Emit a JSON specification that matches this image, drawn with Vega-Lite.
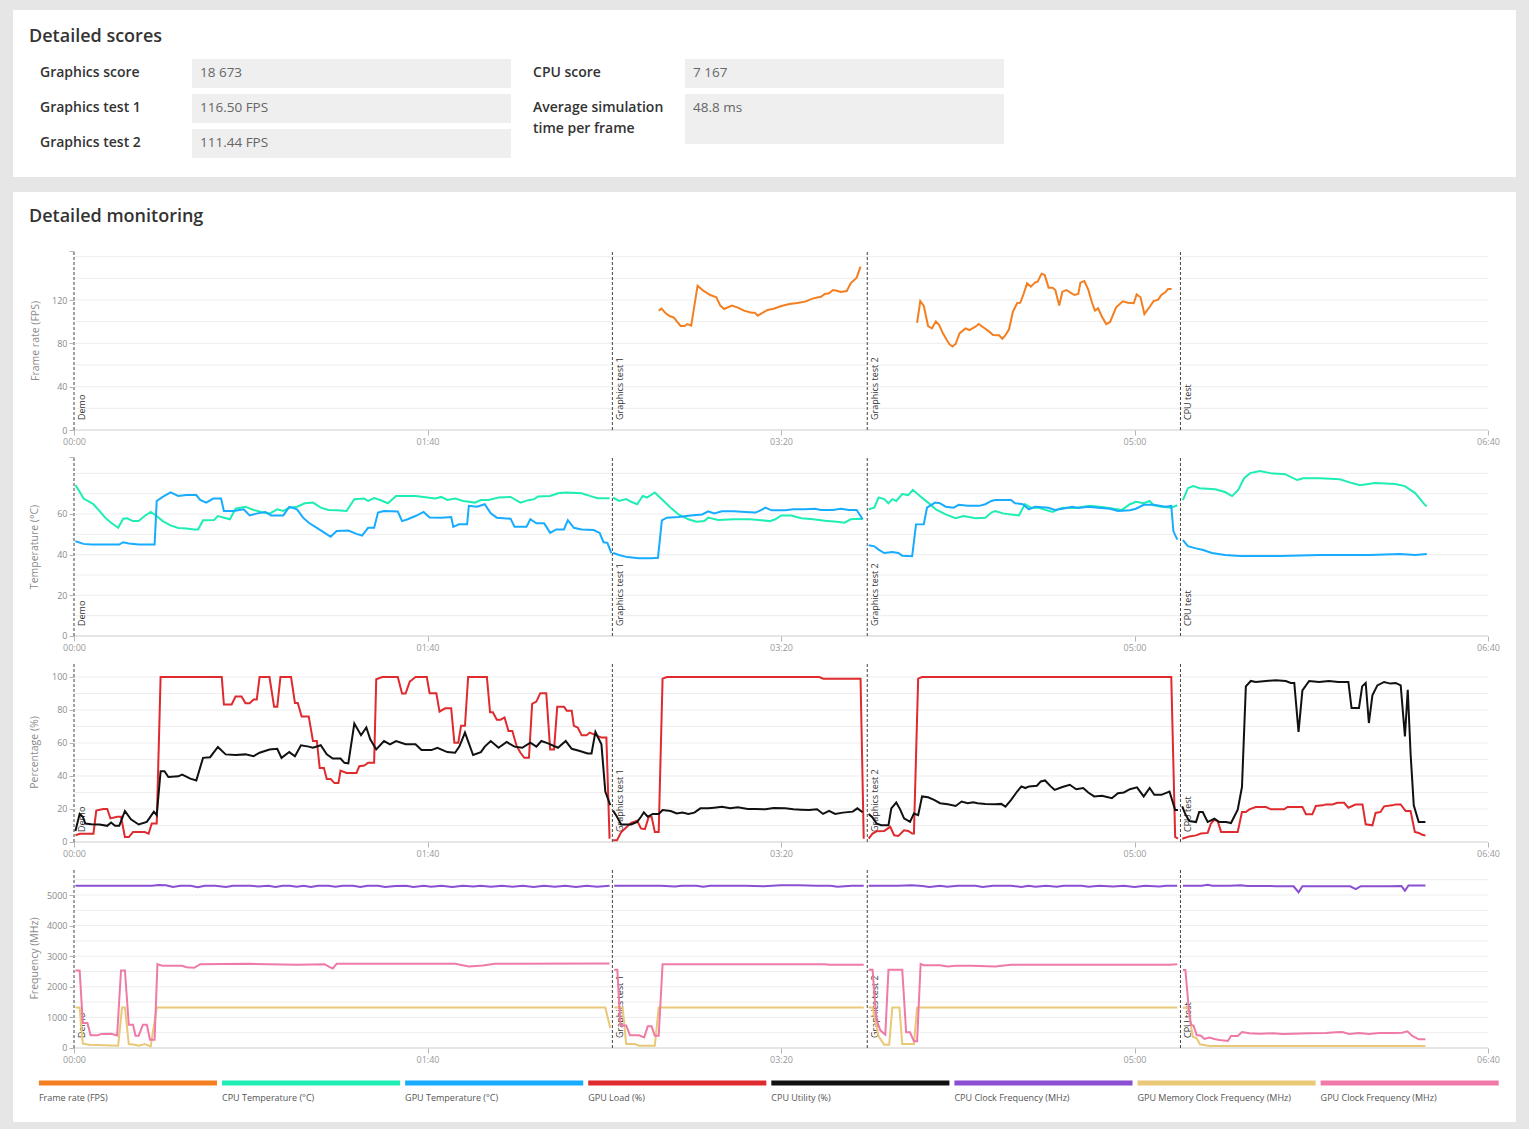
{
"$schema":"https://vega.github.io/schema/vega-lite/v6.json",
"background":"#e6e6e6",
"padding":{"left":13,"top":10,"right":13,"bottom":7},
"spacing":15,
"config":{"view":{"fill":"#ffffff","stroke":null},"font":"Open Sans","concat":{"spacing":0}},
"datasets":{
"scores":[
{"col":0,"row":1,"lines":1,"label":"Graphics score","value":"18 673"},
{"col":0,"row":2,"lines":1,"label":"Graphics test 1","value":"116.50 FPS"},
{"col":0,"row":3,"lines":1,"label":"Graphics test 2","value":"111.44 FPS"},
{"col":1,"row":1,"lines":1,"label":"CPU score","value":"7 167"},
{"col":1,"row":2,"lines":2,"label":"Average simulation\ntime per frame","value":"48.8 ms"}],
"markers":[{"t":0,"label":"Demo"},{"t":152.3,"label":"Graphics test 1"},{"t":224.4,"label":"Graphics test 2"},{"t":313,"label":"CPU test"}],
"legend":[{"s":"fps","label":"Frame rate (FPS)"},{"s":"cput","label":"CPU Temperature (°C)"},{"s":"gput","label":"GPU Temperature (°C)"},{"s":"gload","label":"GPU Load (%)"},{"s":"cpuu","label":"CPU Utility (%)"},{"s":"cclk","label":"CPU Clock Frequency (MHz)"},{"s":"gmem","label":"GPU Memory Clock Frequency (MHz)"},{"s":"gclk","label":"GPU Clock Frequency (MHz)"}],
"c1":[
{"s":"fps","g":2,"t":165.4,"v":110.2},{"s":"fps","g":2,"t":166.2,"v":112},{"s":"fps","g":2,"t":167.4,"v":107.7},{"s":"fps","g":2,"t":168.5,"v":105.2},{"s":"fps","g":2,"t":169.7,"v":103.7},{"s":"fps","g":2,"t":170.6,"v":100},{"s":"fps","g":2,"t":171.6,"v":96},{"s":"fps","g":2,"t":172.7,"v":96},{"s":"fps","g":2,"t":173.5,"v":97.8},{"s":"fps","g":2,"t":174.6,"v":96.3},{"s":"fps","g":2,"t":176.4,"v":133.2},{"s":"fps","g":2,"t":178,"v":128.6},{"s":"fps","g":2,"t":180,"v":124.6},{"s":"fps","g":2,"t":181.7,"v":122.5},{"s":"fps","g":2,"t":182.8,"v":115},{"s":"fps","g":2,"t":183.9,"v":111.7},{"s":"fps","g":2,"t":186.1,"v":114.8},{"s":"fps","g":2,"t":187.8,"v":113},{"s":"fps","g":2,"t":189.5,"v":110.2},{"s":"fps","g":2,"t":191.7,"v":108.3},{"s":"fps","g":2,"t":192.6,"v":108.3},{"s":"fps","g":2,"t":193.4,"v":105.5},{"s":"fps","g":2,"t":194.5,"v":107.7},{"s":"fps","g":2,"t":196.2,"v":110.8},{"s":"fps","g":2,"t":197.9,"v":112},{"s":"fps","g":2,"t":200.1,"v":114.5},{"s":"fps","g":2,"t":202.4,"v":116.3},{"s":"fps","g":2,"t":204.6,"v":117.2},{"s":"fps","g":2,"t":206.8,"v":118.5},{"s":"fps","g":2,"t":209.1,"v":121.5},{"s":"fps","g":2,"t":211.3,"v":123},{"s":"fps","g":2,"t":212.4,"v":125.5},{"s":"fps","g":2,"t":213.6,"v":126.2},{"s":"fps","g":2,"t":214.7,"v":129.2},{"s":"fps","g":2,"t":215.8,"v":128.6},{"s":"fps","g":2,"t":216.9,"v":127.4},{"s":"fps","g":2,"t":218.6,"v":128.3},{"s":"fps","g":2,"t":219.7,"v":135.4},{"s":"fps","g":2,"t":221.4,"v":140.6},{"s":"fps","g":2,"t":222.5,"v":150.8},
{"s":"fps","g":3,"t":238.5,"v":99},{"s":"fps","g":3,"t":239.4,"v":119},{"s":"fps","g":3,"t":240.4,"v":114.5},{"s":"fps","g":3,"t":241.6,"v":96},{"s":"fps","g":3,"t":242.7,"v":93.8},{"s":"fps","g":3,"t":243.8,"v":100.3},{"s":"fps","g":3,"t":244.7,"v":97},{"s":"fps","g":3,"t":245.8,"v":89.2},{"s":"fps","g":3,"t":246.9,"v":83},{"s":"fps","g":3,"t":247.7,"v":79},{"s":"fps","g":3,"t":248.5,"v":77},{"s":"fps","g":3,"t":249.4,"v":79.4},{"s":"fps","g":3,"t":250.5,"v":89.2},{"s":"fps","g":3,"t":252.2,"v":93.8},{"s":"fps","g":3,"t":253.3,"v":92.3},{"s":"fps","g":3,"t":255,"v":95.4},{"s":"fps","g":3,"t":255.9,"v":97.8},{"s":"fps","g":3,"t":257.2,"v":94.8},{"s":"fps","g":3,"t":258.9,"v":90.8},{"s":"fps","g":3,"t":260,"v":87.7},{"s":"fps","g":3,"t":261.7,"v":87.4},{"s":"fps","g":3,"t":262.6,"v":84.3},{"s":"fps","g":3,"t":263.4,"v":87},{"s":"fps","g":3,"t":264.5,"v":93},{"s":"fps","g":3,"t":265.6,"v":109.2},{"s":"fps","g":3,"t":266.8,"v":117},{"s":"fps","g":3,"t":267.7,"v":117.5},{"s":"fps","g":3,"t":268.7,"v":126.2},{"s":"fps","g":3,"t":269.6,"v":135.4},{"s":"fps","g":3,"t":270.7,"v":132.3},{"s":"fps","g":3,"t":271.8,"v":136},{"s":"fps","g":3,"t":272.6,"v":137},{"s":"fps","g":3,"t":273.7,"v":144.3},{"s":"fps","g":3,"t":274.6,"v":143},{"s":"fps","g":3,"t":275.7,"v":131.4},{"s":"fps","g":3,"t":276.8,"v":131.4},{"s":"fps","g":3,"t":277.6,"v":129.2},{"s":"fps","g":3,"t":278.7,"v":115},{"s":"fps","g":3,"t":279.6,"v":127.7},{"s":"fps","g":3,"t":280.8,"v":129.2},{"s":"fps","g":3,"t":281.9,"v":126.8},{"s":"fps","g":3,"t":283,"v":124.6},{"s":"fps","g":3,"t":284.1,"v":125.5},{"s":"fps","g":3,"t":284.7,"v":136},{"s":"fps","g":3,"t":285.8,"v":137.5},{"s":"fps","g":3,"t":286.9,"v":129.8},{"s":"fps","g":3,"t":288,"v":117.5},{"s":"fps","g":3,"t":288.8,"v":110.2},{"s":"fps","g":3,"t":289.7,"v":112.3},{"s":"fps","g":3,"t":290.8,"v":104.6},{"s":"fps","g":3,"t":292,"v":97.8},{"s":"fps","g":3,"t":293.1,"v":99.7},{"s":"fps","g":3,"t":294.8,"v":113.2},{"s":"fps","g":3,"t":296.7,"v":118.8},{"s":"fps","g":3,"t":298.1,"v":117.5},{"s":"fps","g":3,"t":299.8,"v":117},{"s":"fps","g":3,"t":300.6,"v":125.2},{"s":"fps","g":3,"t":301.7,"v":122.5},{"s":"fps","g":3,"t":302.8,"v":107},{"s":"fps","g":3,"t":304.3,"v":113.8},{"s":"fps","g":3,"t":305.4,"v":119},{"s":"fps","g":3,"t":306.7,"v":120.3},{"s":"fps","g":3,"t":307.6,"v":124.6},{"s":"fps","g":3,"t":308.8,"v":127.4},{"s":"fps","g":3,"t":309.5,"v":130.2},{"s":"fps","g":3,"t":310.5,"v":130.2}],
"c2":[
{"s":"cput","g":1,"t":0.4,"v":74.2},{"s":"cput","g":1,"t":1.6,"v":70.9},{"s":"cput","g":1,"t":2.7,"v":67.6},{"s":"cput","g":1,"t":4.4,"v":66},{"s":"cput","g":1,"t":5.5,"v":64.8},{"s":"cput","g":1,"t":7.2,"v":61.5},{"s":"cput","g":1,"t":8.8,"v":58.2},{"s":"cput","g":1,"t":10.5,"v":55.7},{"s":"cput","g":1,"t":12.5,"v":53.2},{"s":"cput","g":1,"t":13.9,"v":57.7},{"s":"cput","g":1,"t":15,"v":57.9},{"s":"cput","g":1,"t":16.7,"v":56.5},{"s":"cput","g":1,"t":18.3,"v":56.5},{"s":"cput","g":1,"t":20,"v":59},{"s":"cput","g":1,"t":21.7,"v":61},{"s":"cput","g":1,"t":23.4,"v":59},{"s":"cput","g":1,"t":25.1,"v":56.5},{"s":"cput","g":1,"t":27.3,"v":54.4},{"s":"cput","g":1,"t":29.5,"v":53.1},{"s":"cput","g":1,"t":31.8,"v":52.9},{"s":"cput","g":1,"t":34,"v":52.4},{"s":"cput","g":1,"t":35.1,"v":52.4},{"s":"cput","g":1,"t":36.5,"v":56.9},{"s":"cput","g":1,"t":39.6,"v":57},{"s":"cput","g":1,"t":40.7,"v":59},{"s":"cput","g":1,"t":44.1,"v":57.4},{"s":"cput","g":1,"t":45.7,"v":62.6},{"s":"cput","g":1,"t":48.5,"v":63.6},{"s":"cput","g":1,"t":50.8,"v":62},{"s":"cput","g":1,"t":53,"v":61},{"s":"cput","g":1,"t":55.3,"v":60.2},{"s":"cput","g":1,"t":57.5,"v":62.3},{"s":"cput","g":1,"t":59.2,"v":61.5},{"s":"cput","g":1,"t":60.9,"v":63.1},{"s":"cput","g":1,"t":63.1,"v":63.6},{"s":"cput","g":1,"t":65.3,"v":65.3},{"s":"cput","g":1,"t":67.6,"v":65.6},{"s":"cput","g":1,"t":69.8,"v":63.1},{"s":"cput","g":1,"t":72,"v":62},{"s":"cput","g":1,"t":74.3,"v":61.8},{"s":"cput","g":1,"t":77.1,"v":61.5},{"s":"cput","g":1,"t":79.3,"v":67.3},{"s":"cput","g":1,"t":82.1,"v":67.6},{"s":"cput","g":1,"t":83.2,"v":66.4},{"s":"cput","g":1,"t":84.9,"v":67.8},{"s":"cput","g":1,"t":86.6,"v":66.9},{"s":"cput","g":1,"t":88.8,"v":65.3},{"s":"cput","g":1,"t":91.1,"v":68.9},{"s":"cput","g":1,"t":93.3,"v":68.9},{"s":"cput","g":1,"t":96.6,"v":68.9},{"s":"cput","g":1,"t":98.9,"v":68.4},{"s":"cput","g":1,"t":102.2,"v":67.6},{"s":"cput","g":1,"t":103.9,"v":68.4},{"s":"cput","g":1,"t":105.6,"v":66.9},{"s":"cput","g":1,"t":107.8,"v":67.6},{"s":"cput","g":1,"t":110.1,"v":66.4},{"s":"cput","g":1,"t":113.4,"v":65.6},{"s":"cput","g":1,"t":115.1,"v":66.9},{"s":"cput","g":1,"t":117.3,"v":66.9},{"s":"cput","g":1,"t":120.1,"v":68.1},{"s":"cput","g":1,"t":123.5,"v":68.4},{"s":"cput","g":1,"t":126.3,"v":65.6},{"s":"cput","g":1,"t":128.5,"v":66.8},{"s":"cput","g":1,"t":130.2,"v":67.3},{"s":"cput","g":1,"t":131.3,"v":68.6},{"s":"cput","g":1,"t":134.7,"v":68.9},{"s":"cput","g":1,"t":136.9,"v":70.2},{"s":"cput","g":1,"t":139.1,"v":70.6},{"s":"cput","g":1,"t":143.6,"v":70.2},{"s":"cput","g":1,"t":145.9,"v":68.9},{"s":"cput","g":1,"t":148.1,"v":67.8},{"s":"cput","g":1,"t":151.5,"v":67.8},
{"s":"gput","g":1,"t":0.4,"v":46.6},{"s":"gput","g":1,"t":2.7,"v":45.3},{"s":"gput","g":1,"t":4.9,"v":45},{"s":"gput","g":1,"t":12.8,"v":45},{"s":"gput","g":1,"t":13.9,"v":46.1},{"s":"gput","g":1,"t":15.5,"v":45.5},{"s":"gput","g":1,"t":18.3,"v":45},{"s":"gput","g":1,"t":22.8,"v":45},{"s":"gput","g":1,"t":23.4,"v":66.4},{"s":"gput","g":1,"t":25.1,"v":68.4},{"s":"gput","g":1,"t":27.3,"v":70.6},{"s":"gput","g":1,"t":29.5,"v":68.9},{"s":"gput","g":1,"t":31.8,"v":69.3},{"s":"gput","g":1,"t":34.6,"v":69.3},{"s":"gput","g":1,"t":35.7,"v":66.9},{"s":"gput","g":1,"t":37.4,"v":65.6},{"s":"gput","g":1,"t":39.4,"v":67.6},{"s":"gput","g":1,"t":41.6,"v":67.6},{"s":"gput","g":1,"t":42.4,"v":61.5},{"s":"gput","g":1,"t":45.2,"v":61.5},{"s":"gput","g":1,"t":48,"v":62.3},{"s":"gput","g":1,"t":49.7,"v":59.3},{"s":"gput","g":1,"t":51.9,"v":60.3},{"s":"gput","g":1,"t":54.1,"v":61},{"s":"gput","g":1,"t":55.8,"v":59.3},{"s":"gput","g":1,"t":59.2,"v":59.3},{"s":"gput","g":1,"t":60.9,"v":63.5},{"s":"gput","g":1,"t":63.1,"v":62.3},{"s":"gput","g":1,"t":64.8,"v":58.2},{"s":"gput","g":1,"t":66.4,"v":55.7},{"s":"gput","g":1,"t":68.7,"v":53.2},{"s":"gput","g":1,"t":70.9,"v":50.7},{"s":"gput","g":1,"t":72.6,"v":48.8},{"s":"gput","g":1,"t":74.3,"v":51.6},{"s":"gput","g":1,"t":77.6,"v":51.9},{"s":"gput","g":1,"t":79.9,"v":50.2},{"s":"gput","g":1,"t":81.5,"v":49.4},{"s":"gput","g":1,"t":83.2,"v":53.2},{"s":"gput","g":1,"t":84.9,"v":53.2},{"s":"gput","g":1,"t":86,"v":60.7},{"s":"gput","g":1,"t":87.7,"v":61.5},{"s":"gput","g":1,"t":91.6,"v":61.2},{"s":"gput","g":1,"t":92.8,"v":56.5},{"s":"gput","g":1,"t":94.4,"v":57.4},{"s":"gput","g":1,"t":96.6,"v":59},{"s":"gput","g":1,"t":98.9,"v":61},{"s":"gput","g":1,"t":100.6,"v":58.3},{"s":"gput","g":1,"t":103.9,"v":58.2},{"s":"gput","g":1,"t":106.7,"v":58.5},{"s":"gput","g":1,"t":107.3,"v":53.7},{"s":"gput","g":1,"t":108.9,"v":54.9},{"s":"gput","g":1,"t":111.2,"v":54.9},{"s":"gput","g":1,"t":111.7,"v":64},{"s":"gput","g":1,"t":114,"v":63.6},{"s":"gput","g":1,"t":116.2,"v":64.8},{"s":"gput","g":1,"t":117.9,"v":60.3},{"s":"gput","g":1,"t":119.6,"v":58.2},{"s":"gput","g":1,"t":123.5,"v":57.7},{"s":"gput","g":1,"t":124.6,"v":53.7},{"s":"gput","g":1,"t":128,"v":53.7},{"s":"gput","g":1,"t":129.1,"v":57.4},{"s":"gput","g":1,"t":130.8,"v":55.4},{"s":"gput","g":1,"t":133,"v":55.4},{"s":"gput","g":1,"t":134.7,"v":50.7},{"s":"gput","g":1,"t":136.4,"v":52.4},{"s":"gput","g":1,"t":138.6,"v":52.4},{"s":"gput","g":1,"t":139.7,"v":57},{"s":"gput","g":1,"t":141.4,"v":53.2},{"s":"gput","g":1,"t":143.6,"v":52.4},{"s":"gput","g":1,"t":147,"v":52.1},{"s":"gput","g":1,"t":148.7,"v":50.7},{"s":"gput","g":1,"t":149.8,"v":46.1},{"s":"gput","g":1,"t":150.9,"v":45.8},{"s":"gput","g":1,"t":152,"v":40.8},
{"s":"cput","g":2,"t":152.5,"v":68.1},{"s":"cput","g":2,"t":154.2,"v":66.4},{"s":"cput","g":2,"t":156.2,"v":67.3},{"s":"cput","g":2,"t":157.6,"v":66},{"s":"cput","g":2,"t":159.3,"v":64.8},{"s":"cput","g":2,"t":160.9,"v":68.9},{"s":"cput","g":2,"t":162.1,"v":68.1},{"s":"cput","g":2,"t":164.3,"v":70.6},{"s":"cput","g":2,"t":166.5,"v":66.9},{"s":"cput","g":2,"t":168.8,"v":63.1},{"s":"cput","g":2,"t":171,"v":59.8},{"s":"cput","g":2,"t":173.8,"v":57.4},{"s":"cput","g":2,"t":176.1,"v":56.2},{"s":"cput","g":2,"t":178.3,"v":56.5},{"s":"cput","g":2,"t":179.4,"v":58.2},{"s":"cput","g":2,"t":182.2,"v":57},{"s":"cput","g":2,"t":186.7,"v":57.4},{"s":"cput","g":2,"t":191.2,"v":57.4},{"s":"cput","g":2,"t":194.5,"v":56.9},{"s":"cput","g":2,"t":196.8,"v":56.5},{"s":"cput","g":2,"t":198.4,"v":57.4},{"s":"cput","g":2,"t":200.1,"v":59.3},{"s":"cput","g":2,"t":202.9,"v":59.3},{"s":"cput","g":2,"t":205.7,"v":57.9},{"s":"cput","g":2,"t":209.1,"v":57.4},{"s":"cput","g":2,"t":212.4,"v":56.7},{"s":"cput","g":2,"t":215.8,"v":56.2},{"s":"cput","g":2,"t":218,"v":55.7},{"s":"cput","g":2,"t":219.7,"v":57.4},{"s":"cput","g":2,"t":222,"v":57.7},{"s":"cput","g":2,"t":223.1,"v":57.4},
{"s":"gput","g":2,"t":152.5,"v":40.8},{"s":"gput","g":2,"t":154.2,"v":39.8},{"s":"gput","g":2,"t":156.5,"v":38.8},{"s":"gput","g":2,"t":159.8,"v":38.2},{"s":"gput","g":2,"t":163.2,"v":38.2},{"s":"gput","g":2,"t":165.2,"v":38.5},{"s":"gput","g":2,"t":166.3,"v":56.9},{"s":"gput","g":2,"t":167.7,"v":58.2},{"s":"gput","g":2,"t":171,"v":58.5},{"s":"gput","g":2,"t":174.4,"v":59.3},{"s":"gput","g":2,"t":177.7,"v":59.8},{"s":"gput","g":2,"t":179.4,"v":61.3},{"s":"gput","g":2,"t":181.1,"v":60.3},{"s":"gput","g":2,"t":183.3,"v":61.3},{"s":"gput","g":2,"t":186.7,"v":61.3},{"s":"gput","g":2,"t":190,"v":61},{"s":"gput","g":2,"t":192.8,"v":60.7},{"s":"gput","g":2,"t":194.5,"v":62},{"s":"gput","g":2,"t":195.6,"v":63.1},{"s":"gput","g":2,"t":197.3,"v":61.8},{"s":"gput","g":2,"t":201.2,"v":61.8},{"s":"gput","g":2,"t":203.5,"v":62.3},{"s":"gput","g":2,"t":206.8,"v":62.3},{"s":"gput","g":2,"t":209.6,"v":62.6},{"s":"gput","g":2,"t":211.3,"v":62},{"s":"gput","g":2,"t":214.7,"v":62},{"s":"gput","g":2,"t":216.9,"v":62.6},{"s":"gput","g":2,"t":219.2,"v":62},{"s":"gput","g":2,"t":221.4,"v":62},{"s":"gput","g":2,"t":223.1,"v":57.4},
{"s":"cput","g":3,"t":224.8,"v":62.3},{"s":"cput","g":3,"t":226.4,"v":63.1},{"s":"cput","g":3,"t":227.6,"v":68.1},{"s":"cput","g":3,"t":229.2,"v":67.3},{"s":"cput","g":3,"t":230.4,"v":65.3},{"s":"cput","g":3,"t":231.5,"v":67.3},{"s":"cput","g":3,"t":232.6,"v":66.4},{"s":"cput","g":3,"t":234.3,"v":69.8},{"s":"cput","g":3,"t":236,"v":69.3},{"s":"cput","g":3,"t":237.3,"v":71.9},{"s":"cput","g":3,"t":239.3,"v":68.9},{"s":"cput","g":3,"t":241.6,"v":65.6},{"s":"cput","g":3,"t":243.8,"v":62.3},{"s":"cput","g":3,"t":246.6,"v":59.8},{"s":"cput","g":3,"t":249.4,"v":57.9},{"s":"cput","g":3,"t":251.6,"v":59},{"s":"cput","g":3,"t":255,"v":57.9},{"s":"cput","g":3,"t":257.8,"v":58.2},{"s":"cput","g":3,"t":259.5,"v":60.7},{"s":"cput","g":3,"t":260.6,"v":61.5},{"s":"cput","g":3,"t":262.8,"v":60.3},{"s":"cput","g":3,"t":265.1,"v":59.7},{"s":"cput","g":3,"t":267.3,"v":59.3},{"s":"cput","g":3,"t":269,"v":64.8},{"s":"cput","g":3,"t":270.7,"v":63.1},{"s":"cput","g":3,"t":272.9,"v":63.1},{"s":"cput","g":3,"t":275.2,"v":61.8},{"s":"cput","g":3,"t":276.8,"v":61},{"s":"cput","g":3,"t":279.6,"v":63.1},{"s":"cput","g":3,"t":283,"v":63},{"s":"cput","g":3,"t":287.5,"v":64},{"s":"cput","g":3,"t":290.8,"v":63.5},{"s":"cput","g":3,"t":294.2,"v":62.6},{"s":"cput","g":3,"t":296.4,"v":62},{"s":"cput","g":3,"t":298.7,"v":64.8},{"s":"cput","g":3,"t":300.4,"v":66},{"s":"cput","g":3,"t":302.6,"v":65.3},{"s":"cput","g":3,"t":304.3,"v":66.4},{"s":"cput","g":3,"t":305.4,"v":64.3},{"s":"cput","g":3,"t":307.6,"v":63.6},{"s":"cput","g":3,"t":310.4,"v":63.1},{"s":"cput","g":3,"t":312.1,"v":64.3},
{"s":"gput","g":3,"t":224.8,"v":44.6},{"s":"gput","g":3,"t":226.4,"v":44.1},{"s":"gput","g":3,"t":227.6,"v":42.5},{"s":"gput","g":3,"t":229.2,"v":40.8},{"s":"gput","g":3,"t":231.5,"v":41.3},{"s":"gput","g":3,"t":233.2,"v":40.8},{"s":"gput","g":3,"t":234.3,"v":39.5},{"s":"gput","g":3,"t":237.1,"v":39.2},{"s":"gput","g":3,"t":238.2,"v":54.9},{"s":"gput","g":3,"t":240.4,"v":55},{"s":"gput","g":3,"t":241.3,"v":63.1},{"s":"gput","g":3,"t":243.6,"v":65.6},{"s":"gput","g":3,"t":244.9,"v":65.3},{"s":"gput","g":3,"t":246.6,"v":63.6},{"s":"gput","g":3,"t":248.8,"v":63.1},{"s":"gput","g":3,"t":250.3,"v":64.5},{"s":"gput","g":3,"t":252.8,"v":64},{"s":"gput","g":3,"t":256.1,"v":64},{"s":"gput","g":3,"t":257.8,"v":64.8},{"s":"gput","g":3,"t":259.5,"v":66.4},{"s":"gput","g":3,"t":260.6,"v":66.9},{"s":"gput","g":3,"t":265.1,"v":66.9},{"s":"gput","g":3,"t":266.2,"v":65.3},{"s":"gput","g":3,"t":268.4,"v":64.8},{"s":"gput","g":3,"t":270.1,"v":62.3},{"s":"gput","g":3,"t":271.9,"v":63.6},{"s":"gput","g":3,"t":275.7,"v":63.1},{"s":"gput","g":3,"t":277.4,"v":62},{"s":"gput","g":3,"t":279.6,"v":62.6},{"s":"gput","g":3,"t":282.4,"v":63.5},{"s":"gput","g":3,"t":284.1,"v":63},{"s":"gput","g":3,"t":286.9,"v":63.6},{"s":"gput","g":3,"t":289.7,"v":63.1},{"s":"gput","g":3,"t":293.1,"v":62.6},{"s":"gput","g":3,"t":295.3,"v":61.5},{"s":"gput","g":3,"t":298.7,"v":61.8},{"s":"gput","g":3,"t":300.4,"v":62.6},{"s":"gput","g":3,"t":302.6,"v":64.5},{"s":"gput","g":3,"t":305.4,"v":64.5},{"s":"gput","g":3,"t":308.8,"v":63.6},{"s":"gput","g":3,"t":310.4,"v":64},{"s":"gput","g":3,"t":311,"v":51.6},{"s":"gput","g":3,"t":312.1,"v":47.4},
{"s":"cput","g":4,"t":313.7,"v":66.8},{"s":"cput","g":4,"t":315.1,"v":72.7},{"s":"cput","g":4,"t":316.6,"v":73.7},{"s":"cput","g":4,"t":318.5,"v":72.7},{"s":"cput","g":4,"t":322.8,"v":72.2},{"s":"cput","g":4,"t":325.6,"v":70.8},{"s":"cput","g":4,"t":327.6,"v":68.8},{"s":"cput","g":4,"t":329.3,"v":71.7},{"s":"cput","g":4,"t":331,"v":77.6},{"s":"cput","g":4,"t":332.7,"v":80.1},{"s":"cput","g":4,"t":335.5,"v":81.1},{"s":"cput","g":4,"t":338.3,"v":80.1},{"s":"cput","g":4,"t":342.6,"v":79.6},{"s":"cput","g":4,"t":346,"v":76.7},{"s":"cput","g":4,"t":347.7,"v":77.6},{"s":"cput","g":4,"t":352.5,"v":77.6},{"s":"cput","g":4,"t":358.1,"v":77.1},{"s":"cput","g":4,"t":361.5,"v":75.2},{"s":"cput","g":4,"t":363.8,"v":74.2},{"s":"cput","g":4,"t":368,"v":75.2},{"s":"cput","g":4,"t":373.7,"v":74.7},{"s":"cput","g":4,"t":376.5,"v":73.7},{"s":"cput","g":4,"t":379.4,"v":70.3},{"s":"cput","g":4,"t":382.2,"v":64.4},{"s":"cput","g":4,"t":382.7,"v":63.9},
{"s":"gput","g":4,"t":313.7,"v":47.2},{"s":"gput","g":4,"t":315.1,"v":44.2},{"s":"gput","g":4,"t":317.1,"v":43.2},{"s":"gput","g":4,"t":319.4,"v":42.3},{"s":"gput","g":4,"t":321.9,"v":40.8},{"s":"gput","g":4,"t":325.6,"v":39.8},{"s":"gput","g":4,"t":329.8,"v":39.3},{"s":"gput","g":4,"t":341.2,"v":39.3},{"s":"gput","g":4,"t":352.5,"v":39.8},{"s":"gput","g":4,"t":366.6,"v":39.8},{"s":"gput","g":4,"t":375.1,"v":40.3},{"s":"gput","g":4,"t":379.4,"v":39.8},{"s":"gput","g":4,"t":382.7,"v":40.3}],
"c3":[
{"s":"gload","g":1,"t":0.4,"v":4},{"s":"gload","g":1,"t":1.6,"v":5},{"s":"gload","g":1,"t":5.5,"v":5},{"s":"gload","g":1,"t":6.3,"v":19},{"s":"gload","g":1,"t":8.3,"v":20},{"s":"gload","g":1,"t":9.4,"v":20},{"s":"gload","g":1,"t":10.3,"v":14.3},{"s":"gload","g":1,"t":12.2,"v":15.3},{"s":"gload","g":1,"t":13.3,"v":15.3},{"s":"gload","g":1,"t":14.4,"v":3},{"s":"gload","g":1,"t":15.5,"v":3},{"s":"gload","g":1,"t":16.7,"v":6},{"s":"gload","g":1,"t":20,"v":6},{"s":"gload","g":1,"t":21.1,"v":5},{"s":"gload","g":1,"t":22,"v":11.2},{"s":"gload","g":1,"t":23.4,"v":11.2},{"s":"gload","g":1,"t":24.5,"v":100},{"s":"gload","g":1,"t":41.8,"v":100},{"s":"gload","g":1,"t":42.4,"v":83.3},{"s":"gload","g":1,"t":44.6,"v":83.3},{"s":"gload","g":1,"t":45.7,"v":88.2},{"s":"gload","g":1,"t":47.4,"v":88.2},{"s":"gload","g":1,"t":48.5,"v":84.1},{"s":"gload","g":1,"t":49.7,"v":84.1},{"s":"gload","g":1,"t":50.8,"v":86.3},{"s":"gload","g":1,"t":51.7,"v":86.3},{"s":"gload","g":1,"t":52.5,"v":100},{"s":"gload","g":1,"t":55.3,"v":100},{"s":"gload","g":1,"t":56.6,"v":82},{"s":"gload","g":1,"t":57.5,"v":82},{"s":"gload","g":1,"t":58.4,"v":100},{"s":"gload","g":1,"t":61.4,"v":100},{"s":"gload","g":1,"t":62.5,"v":84.3},{"s":"gload","g":1,"t":63.3,"v":84.3},{"s":"gload","g":1,"t":64.4,"v":76.1},{"s":"gload","g":1,"t":66.4,"v":76.1},{"s":"gload","g":1,"t":67.6,"v":61.2},{"s":"gload","g":1,"t":68.7,"v":61.2},{"s":"gload","g":1,"t":69.5,"v":44.9},{"s":"gload","g":1,"t":70.7,"v":44.9},{"s":"gload","g":1,"t":71.5,"v":38.2},{"s":"gload","g":1,"t":72.6,"v":38.2},{"s":"gload","g":1,"t":73.7,"v":35.7},{"s":"gload","g":1,"t":74.8,"v":35.7},{"s":"gload","g":1,"t":75.4,"v":43.3},{"s":"gload","g":1,"t":77.1,"v":41.8},{"s":"gload","g":1,"t":79.9,"v":41.8},{"s":"gload","g":1,"t":80.7,"v":45.9},{"s":"gload","g":1,"t":82.1,"v":46.3},{"s":"gload","g":1,"t":83.2,"v":48},{"s":"gload","g":1,"t":84.9,"v":48},{"s":"gload","g":1,"t":85.5,"v":98.6},{"s":"gload","g":1,"t":87.2,"v":100},{"s":"gload","g":1,"t":91.6,"v":100},{"s":"gload","g":1,"t":92.8,"v":90},{"s":"gload","g":1,"t":93.8,"v":90},{"s":"gload","g":1,"t":95,"v":97.3},{"s":"gload","g":1,"t":95.5,"v":98},{"s":"gload","g":1,"t":96.6,"v":100},{"s":"gload","g":1,"t":99.8,"v":100},{"s":"gload","g":1,"t":100.6,"v":90.2},{"s":"gload","g":1,"t":102.5,"v":90.2},{"s":"gload","g":1,"t":103.4,"v":79},{"s":"gload","g":1,"t":105,"v":81},{"s":"gload","g":1,"t":106.7,"v":81},{"s":"gload","g":1,"t":107.6,"v":60.2},{"s":"gload","g":1,"t":108.7,"v":60.2},{"s":"gload","g":1,"t":109.5,"v":70.4},{"s":"gload","g":1,"t":110.6,"v":70.4},{"s":"gload","g":1,"t":111.5,"v":100},{"s":"gload","g":1,"t":116.8,"v":100},{"s":"gload","g":1,"t":117.7,"v":78.6},{"s":"gload","g":1,"t":118.5,"v":78.6},{"s":"gload","g":1,"t":119.6,"v":74.1},{"s":"gload","g":1,"t":120.7,"v":74.1},{"s":"gload","g":1,"t":121.8,"v":75.5},{"s":"gload","g":1,"t":122.9,"v":67.3},{"s":"gload","g":1,"t":124,"v":67.3},{"s":"gload","g":1,"t":125.2,"v":58.2},{"s":"gload","g":1,"t":126.3,"v":54.1},{"s":"gload","g":1,"t":127.4,"v":51},{"s":"gload","g":1,"t":128.7,"v":51},{"s":"gload","g":1,"t":129.6,"v":83.7},{"s":"gload","g":1,"t":130.8,"v":85.1},{"s":"gload","g":1,"t":131.9,"v":90.2},{"s":"gload","g":1,"t":133.6,"v":90.2},{"s":"gload","g":1,"t":134.7,"v":56.1},{"s":"gload","g":1,"t":135.8,"v":56.1},{"s":"gload","g":1,"t":136.7,"v":82},{"s":"gload","g":1,"t":138.6,"v":82},{"s":"gload","g":1,"t":139.4,"v":79.6},{"s":"gload","g":1,"t":140.8,"v":79.6},{"s":"gload","g":1,"t":141.4,"v":70.4},{"s":"gload","g":1,"t":142.5,"v":69.4},{"s":"gload","g":1,"t":143.6,"v":64.7},{"s":"gload","g":1,"t":145,"v":64.7},{"s":"gload","g":1,"t":145.9,"v":66.3},{"s":"gload","g":1,"t":149.2,"v":63.3},{"s":"gload","g":1,"t":150.6,"v":63.3},{"s":"gload","g":1,"t":151.5,"v":2},
{"s":"gload","g":2,"t":152.5,"v":1},{"s":"gload","g":2,"t":153.6,"v":1},{"s":"gload","g":2,"t":154.8,"v":6},{"s":"gload","g":2,"t":155.9,"v":8.2},{"s":"gload","g":2,"t":157.6,"v":11.6},{"s":"gload","g":2,"t":159.3,"v":12.9},{"s":"gload","g":2,"t":160.4,"v":8.2},{"s":"gload","g":2,"t":161.5,"v":7.8},{"s":"gload","g":2,"t":162.6,"v":15.3},{"s":"gload","g":2,"t":163.4,"v":15.3},{"s":"gload","g":2,"t":164.3,"v":6.1},{"s":"gload","g":2,"t":165.4,"v":6.1},{"s":"gload","g":2,"t":166.5,"v":99},{"s":"gload","g":2,"t":167.7,"v":100},{"s":"gload","g":2,"t":210.8,"v":100},{"s":"gload","g":2,"t":212,"v":99},{"s":"gload","g":2,"t":222.5,"v":99},{"s":"gload","g":2,"t":223.4,"v":2},
{"s":"gload","g":3,"t":224.8,"v":2},{"s":"gload","g":3,"t":225.9,"v":5.1},{"s":"gload","g":3,"t":227,"v":6.5},{"s":"gload","g":3,"t":229.2,"v":6.7},{"s":"gload","g":3,"t":230.9,"v":9.2},{"s":"gload","g":3,"t":232,"v":4.1},{"s":"gload","g":3,"t":233.2,"v":3.7},{"s":"gload","g":3,"t":234.8,"v":7.1},{"s":"gload","g":3,"t":236,"v":6.7},{"s":"gload","g":3,"t":237.1,"v":5.1},{"s":"gload","g":3,"t":237.6,"v":5.1},{"s":"gload","g":3,"t":238.8,"v":99},{"s":"gload","g":3,"t":239.9,"v":100},{"s":"gload","g":3,"t":310.4,"v":100},{"s":"gload","g":3,"t":311.5,"v":3.1},{"s":"gload","g":3,"t":312.3,"v":2},
{"s":"gload","g":4,"t":313.5,"v":2},{"s":"gload","g":4,"t":315.5,"v":3.4},{"s":"gload","g":4,"t":317.4,"v":4},{"s":"gload","g":4,"t":318.8,"v":5.1},{"s":"gload","g":4,"t":320.7,"v":5.5},{"s":"gload","g":4,"t":321.6,"v":11.1},{"s":"gload","g":4,"t":322.6,"v":13.5},{"s":"gload","g":4,"t":323.5,"v":12.7},{"s":"gload","g":4,"t":324.5,"v":6.1},{"s":"gload","g":4,"t":329.2,"v":6.1},{"s":"gload","g":4,"t":330.4,"v":18.2},{"s":"gload","g":4,"t":331.5,"v":18.2},{"s":"gload","g":4,"t":332.5,"v":19.8},{"s":"gload","g":4,"t":334.3,"v":21.2},{"s":"gload","g":4,"t":337.2,"v":21.2},{"s":"gload","g":4,"t":338.6,"v":19.8},{"s":"gload","g":4,"t":342.3,"v":19.8},{"s":"gload","g":4,"t":343.3,"v":21.2},{"s":"gload","g":4,"t":347.5,"v":21.2},{"s":"gload","g":4,"t":348.5,"v":16.8},{"s":"gload","g":4,"t":350.3,"v":16.8},{"s":"gload","g":4,"t":351.3,"v":21.8},{"s":"gload","g":4,"t":353.2,"v":22.2},{"s":"gload","g":4,"t":354.1,"v":22.8},{"s":"gload","g":4,"t":356,"v":22.8},{"s":"gload","g":4,"t":357.4,"v":23.8},{"s":"gload","g":4,"t":359.3,"v":23.8},{"s":"gload","g":4,"t":360.5,"v":20.8},{"s":"gload","g":4,"t":361.6,"v":21.8},{"s":"gload","g":4,"t":362.6,"v":22.8},{"s":"gload","g":4,"t":364.5,"v":22.8},{"s":"gload","g":4,"t":365.4,"v":10.7},{"s":"gload","g":4,"t":367.3,"v":10.1},{"s":"gload","g":4,"t":368.2,"v":17.6},{"s":"gload","g":4,"t":369.6,"v":18.2},{"s":"gload","g":4,"t":370.6,"v":21.6},{"s":"gload","g":4,"t":372.9,"v":22.2},{"s":"gload","g":4,"t":373.9,"v":22.8},{"s":"gload","g":4,"t":375.3,"v":22.8},{"s":"gload","g":4,"t":376.7,"v":18.8},{"s":"gload","g":4,"t":378.1,"v":18.8},{"s":"gload","g":4,"t":379.3,"v":6.1},{"s":"gload","g":4,"t":380.4,"v":5.5},{"s":"gload","g":4,"t":381.4,"v":4.4},{"s":"gload","g":4,"t":382.3,"v":4},
{"s":"cpuu","g":1,"t":0.4,"v":6.7},{"s":"cpuu","g":1,"t":1.6,"v":17},{"s":"cpuu","g":1,"t":2.5,"v":15.3},{"s":"cpuu","g":1,"t":3.2,"v":11.2},{"s":"cpuu","g":1,"t":4.9,"v":10.8},{"s":"cpuu","g":1,"t":7.2,"v":10.6},{"s":"cpuu","g":1,"t":9.4,"v":9.8},{"s":"cpuu","g":1,"t":10.5,"v":11.8},{"s":"cpuu","g":1,"t":11.6,"v":9.8},{"s":"cpuu","g":1,"t":12.8,"v":9.8},{"s":"cpuu","g":1,"t":14.4,"v":18.8},{"s":"cpuu","g":1,"t":16.1,"v":13.7},{"s":"cpuu","g":1,"t":18.3,"v":10.6},{"s":"cpuu","g":1,"t":20.6,"v":12.2},{"s":"cpuu","g":1,"t":22.6,"v":18.4},{"s":"cpuu","g":1,"t":23.4,"v":16.3},{"s":"cpuu","g":1,"t":24.5,"v":42.9},{"s":"cpuu","g":1,"t":25.6,"v":42.9},{"s":"cpuu","g":1,"t":26.7,"v":39.4},{"s":"cpuu","g":1,"t":29.5,"v":39.8},{"s":"cpuu","g":1,"t":30.6,"v":40.8},{"s":"cpuu","g":1,"t":32.9,"v":38.4},{"s":"cpuu","g":1,"t":34.6,"v":37.3},{"s":"cpuu","g":1,"t":36.5,"v":51},{"s":"cpuu","g":1,"t":38.5,"v":51.4},{"s":"cpuu","g":1,"t":40.7,"v":57.6},{"s":"cpuu","g":1,"t":42.9,"v":53.1},{"s":"cpuu","g":1,"t":45.7,"v":52.7},{"s":"cpuu","g":1,"t":48.5,"v":53.1},{"s":"cpuu","g":1,"t":50.8,"v":52},{"s":"cpuu","g":1,"t":52.5,"v":54.1},{"s":"cpuu","g":1,"t":55.3,"v":56.1},{"s":"cpuu","g":1,"t":57.5,"v":56.5},{"s":"cpuu","g":1,"t":58.7,"v":51},{"s":"cpuu","g":1,"t":60.9,"v":54.5},{"s":"cpuu","g":1,"t":62.5,"v":52},{"s":"cpuu","g":1,"t":64.2,"v":58.6},{"s":"cpuu","g":1,"t":66.4,"v":57.8},{"s":"cpuu","g":1,"t":67.6,"v":57.1},{"s":"cpuu","g":1,"t":69.8,"v":58.6},{"s":"cpuu","g":1,"t":71.5,"v":53.1},{"s":"cpuu","g":1,"t":73.2,"v":50.6},{"s":"cpuu","g":1,"t":75.4,"v":50.6},{"s":"cpuu","g":1,"t":76.5,"v":48},{"s":"cpuu","g":1,"t":77.6,"v":47.6},{"s":"cpuu","g":1,"t":79.3,"v":71.8},{"s":"cpuu","g":1,"t":81.2,"v":64.7},{"s":"cpuu","g":1,"t":82.7,"v":69.4},{"s":"cpuu","g":1,"t":83.8,"v":62.2},{"s":"cpuu","g":1,"t":85.5,"v":56.1},{"s":"cpuu","g":1,"t":87.7,"v":61.2},{"s":"cpuu","g":1,"t":89.4,"v":59.2},{"s":"cpuu","g":1,"t":91.1,"v":61.2},{"s":"cpuu","g":1,"t":93.8,"v":59.2},{"s":"cpuu","g":1,"t":96.6,"v":59.2},{"s":"cpuu","g":1,"t":98.3,"v":55.7},{"s":"cpuu","g":1,"t":101.1,"v":55.7},{"s":"cpuu","g":1,"t":102.8,"v":57.1},{"s":"cpuu","g":1,"t":105.6,"v":54.5},{"s":"cpuu","g":1,"t":107.8,"v":54.1},{"s":"cpuu","g":1,"t":109,"v":57.8},{"s":"cpuu","g":1,"t":110.6,"v":66.3},{"s":"cpuu","g":1,"t":112.9,"v":52.7},{"s":"cpuu","g":1,"t":115.1,"v":54.5},{"s":"cpuu","g":1,"t":116.2,"v":57.8},{"s":"cpuu","g":1,"t":117.9,"v":61.2},{"s":"cpuu","g":1,"t":120.1,"v":57.1},{"s":"cpuu","g":1,"t":122.4,"v":60.6},{"s":"cpuu","g":1,"t":124.6,"v":57.8},{"s":"cpuu","g":1,"t":126.8,"v":57.1},{"s":"cpuu","g":1,"t":129.1,"v":60.2},{"s":"cpuu","g":1,"t":130.8,"v":57.8},{"s":"cpuu","g":1,"t":132.2,"v":61.2},{"s":"cpuu","g":1,"t":134.1,"v":59.8},{"s":"cpuu","g":1,"t":136.9,"v":57.1},{"s":"cpuu","g":1,"t":139.1,"v":61.2},{"s":"cpuu","g":1,"t":140.8,"v":56.5},{"s":"cpuu","g":1,"t":143.1,"v":55.1},{"s":"cpuu","g":1,"t":145.3,"v":53.7},{"s":"cpuu","g":1,"t":146.4,"v":53.7},{"s":"cpuu","g":1,"t":147.5,"v":66.7},{"s":"cpuu","g":1,"t":149.2,"v":59.2},{"s":"cpuu","g":1,"t":150.3,"v":30.6},{"s":"cpuu","g":1,"t":151.7,"v":22.4},
{"s":"cpuu","g":2,"t":152.5,"v":19},{"s":"cpuu","g":2,"t":153.6,"v":15.3},{"s":"cpuu","g":2,"t":154.8,"v":10.6},{"s":"cpuu","g":2,"t":157.6,"v":10.6},{"s":"cpuu","g":2,"t":159.3,"v":12.2},{"s":"cpuu","g":2,"t":160.4,"v":15.3},{"s":"cpuu","g":2,"t":161.2,"v":18},{"s":"cpuu","g":2,"t":162.3,"v":15.3},{"s":"cpuu","g":2,"t":163.7,"v":17},{"s":"cpuu","g":2,"t":165.4,"v":17},{"s":"cpuu","g":2,"t":166.5,"v":19.4},{"s":"cpuu","g":2,"t":168.8,"v":18.8},{"s":"cpuu","g":2,"t":170.5,"v":17.3},{"s":"cpuu","g":2,"t":172.1,"v":17.8},{"s":"cpuu","g":2,"t":173.8,"v":17},{"s":"cpuu","g":2,"t":175.5,"v":17.8},{"s":"cpuu","g":2,"t":177.2,"v":20.4},{"s":"cpuu","g":2,"t":179.4,"v":20.4},{"s":"cpuu","g":2,"t":181.1,"v":20.8},{"s":"cpuu","g":2,"t":183.3,"v":21.4},{"s":"cpuu","g":2,"t":185.6,"v":20.4},{"s":"cpuu","g":2,"t":187.8,"v":21},{"s":"cpuu","g":2,"t":190.6,"v":20},{"s":"cpuu","g":2,"t":192.8,"v":20},{"s":"cpuu","g":2,"t":195.6,"v":19.8},{"s":"cpuu","g":2,"t":197.9,"v":20.6},{"s":"cpuu","g":2,"t":201.2,"v":20.4},{"s":"cpuu","g":2,"t":203.5,"v":19.8},{"s":"cpuu","g":2,"t":205.7,"v":19.6},{"s":"cpuu","g":2,"t":207.9,"v":19.4},{"s":"cpuu","g":2,"t":210.2,"v":19.8},{"s":"cpuu","g":2,"t":211.9,"v":17},{"s":"cpuu","g":2,"t":213.6,"v":18.8},{"s":"cpuu","g":2,"t":215.3,"v":17},{"s":"cpuu","g":2,"t":217.5,"v":17.8},{"s":"cpuu","g":2,"t":220.3,"v":18.4},{"s":"cpuu","g":2,"t":221.6,"v":20.4},{"s":"cpuu","g":2,"t":223.1,"v":18},
{"s":"cpuu","g":3,"t":224.8,"v":17},{"s":"cpuu","g":3,"t":225.9,"v":14.9},{"s":"cpuu","g":3,"t":227,"v":11.2},{"s":"cpuu","g":3,"t":228.3,"v":10.2},{"s":"cpuu","g":3,"t":230.4,"v":10.2},{"s":"cpuu","g":3,"t":231.2,"v":20.4},{"s":"cpuu","g":3,"t":232.6,"v":23.9},{"s":"cpuu","g":3,"t":233.7,"v":19.8},{"s":"cpuu","g":3,"t":234.8,"v":14.3},{"s":"cpuu","g":3,"t":236.5,"v":12.2},{"s":"cpuu","g":3,"t":237.6,"v":17.3},{"s":"cpuu","g":3,"t":238.8,"v":16.3},{"s":"cpuu","g":3,"t":239.9,"v":27.6},{"s":"cpuu","g":3,"t":241.6,"v":27.1},{"s":"cpuu","g":3,"t":243.3,"v":25.5},{"s":"cpuu","g":3,"t":245,"v":23.5},{"s":"cpuu","g":3,"t":247.2,"v":22.9},{"s":"cpuu","g":3,"t":249.4,"v":21.8},{"s":"cpuu","g":3,"t":251.1,"v":24.5},{"s":"cpuu","g":3,"t":252.8,"v":23.5},{"s":"cpuu","g":3,"t":254.4,"v":24.1},{"s":"cpuu","g":3,"t":255.6,"v":23.5},{"s":"cpuu","g":3,"t":257.8,"v":23.1},{"s":"cpuu","g":3,"t":260.6,"v":22.9},{"s":"cpuu","g":3,"t":262.3,"v":23.1},{"s":"cpuu","g":3,"t":263.5,"v":21.4},{"s":"cpuu","g":3,"t":265.1,"v":25.5},{"s":"cpuu","g":3,"t":266.8,"v":30.6},{"s":"cpuu","g":3,"t":268,"v":33.7},{"s":"cpuu","g":3,"t":269.1,"v":32.7},{"s":"cpuu","g":3,"t":270.2,"v":33.7},{"s":"cpuu","g":3,"t":272.4,"v":34.1},{"s":"cpuu","g":3,"t":273.5,"v":36.7},{"s":"cpuu","g":3,"t":274.7,"v":37.3},{"s":"cpuu","g":3,"t":276.3,"v":33.7},{"s":"cpuu","g":3,"t":277.4,"v":31.6},{"s":"cpuu","g":3,"t":279.6,"v":33.3},{"s":"cpuu","g":3,"t":281.7,"v":34.7},{"s":"cpuu","g":3,"t":283.5,"v":32},{"s":"cpuu","g":3,"t":285.5,"v":32.7},{"s":"cpuu","g":3,"t":286.9,"v":30},{"s":"cpuu","g":3,"t":288.6,"v":27.6},{"s":"cpuu","g":3,"t":290.8,"v":28},{"s":"cpuu","g":3,"t":293.6,"v":26.5},{"s":"cpuu","g":3,"t":295.3,"v":29.6},{"s":"cpuu","g":3,"t":297,"v":30},{"s":"cpuu","g":3,"t":298.7,"v":32},{"s":"cpuu","g":3,"t":300.7,"v":33.1},{"s":"cpuu","g":3,"t":302.6,"v":27.6},{"s":"cpuu","g":3,"t":304.3,"v":32.7},{"s":"cpuu","g":3,"t":305.6,"v":28.6},{"s":"cpuu","g":3,"t":307.6,"v":28.6},{"s":"cpuu","g":3,"t":309.9,"v":30.6},{"s":"cpuu","g":3,"t":311.5,"v":19.4},{"s":"cpuu","g":3,"t":312.3,"v":19.4},
{"s":"cpuu","g":4,"t":313.5,"v":21.6},{"s":"cpuu","g":4,"t":314.4,"v":16.8},{"s":"cpuu","g":4,"t":315.5,"v":12.7},{"s":"cpuu","g":4,"t":317.4,"v":12.1},{"s":"cpuu","g":4,"t":318.3,"v":18.2},{"s":"cpuu","g":4,"t":319.3,"v":18.2},{"s":"cpuu","g":4,"t":320.7,"v":12.1},{"s":"cpuu","g":4,"t":322.6,"v":14.1},{"s":"cpuu","g":4,"t":324,"v":12.1},{"s":"cpuu","g":4,"t":325.9,"v":12.1},{"s":"cpuu","g":4,"t":327.3,"v":11.5},{"s":"cpuu","g":4,"t":329.2,"v":19.6},{"s":"cpuu","g":4,"t":330.4,"v":33.3},{"s":"cpuu","g":4,"t":331.5,"v":94.3},{"s":"cpuu","g":4,"t":332.9,"v":97.6},{"s":"cpuu","g":4,"t":334.3,"v":97},{"s":"cpuu","g":4,"t":337.2,"v":97.6},{"s":"cpuu","g":4,"t":339.9,"v":98},{"s":"cpuu","g":4,"t":342.8,"v":97.6},{"s":"cpuu","g":4,"t":344.2,"v":96.4},{"s":"cpuu","g":4,"t":345.2,"v":96.4},{"s":"cpuu","g":4,"t":346.4,"v":66.7},{"s":"cpuu","g":4,"t":347.5,"v":91.9},{"s":"cpuu","g":4,"t":349.4,"v":97.6},{"s":"cpuu","g":4,"t":352.2,"v":97},{"s":"cpuu","g":4,"t":355,"v":97.6},{"s":"cpuu","g":4,"t":357.7,"v":97},{"s":"cpuu","g":4,"t":360.5,"v":97},{"s":"cpuu","g":4,"t":361.4,"v":81.2},{"s":"cpuu","g":4,"t":363.5,"v":81.2},{"s":"cpuu","g":4,"t":364.4,"v":94.3},{"s":"cpuu","g":4,"t":365.4,"v":96.4},{"s":"cpuu","g":4,"t":366.3,"v":72.1},{"s":"cpuu","g":4,"t":367.3,"v":88.9},{"s":"cpuu","g":4,"t":368.7,"v":94.9},{"s":"cpuu","g":4,"t":370.6,"v":97},{"s":"cpuu","g":4,"t":372.4,"v":96},{"s":"cpuu","g":4,"t":373.9,"v":96.4},{"s":"cpuu","g":4,"t":375.3,"v":94.9},{"s":"cpuu","g":4,"t":376.5,"v":64},{"s":"cpuu","g":4,"t":377.3,"v":92.3},{"s":"cpuu","g":4,"t":378.1,"v":53.5},{"s":"cpuu","g":4,"t":379,"v":22.2},{"s":"cpuu","g":4,"t":380.4,"v":12.1},{"s":"cpuu","g":4,"t":382.3,"v":12.1}],
"c4":[
{"s":"cclk","g":1,"t":0.4,"v":5305},{"s":"cclk","g":1,"t":22,"v":5305},{"s":"cclk","g":1,"t":24,"v":5330},{"s":"cclk","g":1,"t":26,"v":5320},{"s":"cclk","g":1,"t":28,"v":5260},{"s":"cclk","g":1,"t":30,"v":5300},{"s":"cclk","g":1,"t":33,"v":5305},{"s":"cclk","g":1,"t":35,"v":5255},{"s":"cclk","g":1,"t":37,"v":5300},{"s":"cclk","g":1,"t":40,"v":5305},{"s":"cclk","g":1,"t":43,"v":5265},{"s":"cclk","g":1,"t":45,"v":5300},{"s":"cclk","g":1,"t":50,"v":5300},{"s":"cclk","g":1,"t":52,"v":5280},{"s":"cclk","g":1,"t":55,"v":5305},{"s":"cclk","g":1,"t":57,"v":5265},{"s":"cclk","g":1,"t":59,"v":5300},{"s":"cclk","g":1,"t":61,"v":5300},{"s":"cclk","g":1,"t":63,"v":5270},{"s":"cclk","g":1,"t":65,"v":5305},{"s":"cclk","g":1,"t":67,"v":5265},{"s":"cclk","g":1,"t":69,"v":5300},{"s":"cclk","g":1,"t":72,"v":5305},{"s":"cclk","g":1,"t":74,"v":5270},{"s":"cclk","g":1,"t":76,"v":5305},{"s":"cclk","g":1,"t":79,"v":5300},{"s":"cclk","g":1,"t":81,"v":5260},{"s":"cclk","g":1,"t":83,"v":5300},{"s":"cclk","g":1,"t":86,"v":5300},{"s":"cclk","g":1,"t":88,"v":5265},{"s":"cclk","g":1,"t":91,"v":5295},{"s":"cclk","g":1,"t":94,"v":5300},{"s":"cclk","g":1,"t":96,"v":5265},{"s":"cclk","g":1,"t":99,"v":5300},{"s":"cclk","g":1,"t":101,"v":5270},{"s":"cclk","g":1,"t":104,"v":5300},{"s":"cclk","g":1,"t":107,"v":5265},{"s":"cclk","g":1,"t":110,"v":5300},{"s":"cclk","g":1,"t":113,"v":5275},{"s":"cclk","g":1,"t":115,"v":5300},{"s":"cclk","g":1,"t":118,"v":5270},{"s":"cclk","g":1,"t":121,"v":5300},{"s":"cclk","g":1,"t":124,"v":5270},{"s":"cclk","g":1,"t":127,"v":5300},{"s":"cclk","g":1,"t":130,"v":5265},{"s":"cclk","g":1,"t":133,"v":5300},{"s":"cclk","g":1,"t":136,"v":5270},{"s":"cclk","g":1,"t":139,"v":5300},{"s":"cclk","g":1,"t":142,"v":5265},{"s":"cclk","g":1,"t":145,"v":5300},{"s":"cclk","g":1,"t":148,"v":5270},{"s":"cclk","g":1,"t":151.5,"v":5305},
{"s":"cclk","g":2,"t":152.8,"v":5305},{"s":"cclk","g":2,"t":160,"v":5305},{"s":"cclk","g":2,"t":166,"v":5300},{"s":"cclk","g":2,"t":170,"v":5275},{"s":"cclk","g":2,"t":172,"v":5300},{"s":"cclk","g":2,"t":176,"v":5305},{"s":"cclk","g":2,"t":178,"v":5270},{"s":"cclk","g":2,"t":180,"v":5300},{"s":"cclk","g":2,"t":190,"v":5305},{"s":"cclk","g":2,"t":195,"v":5290},{"s":"cclk","g":2,"t":200,"v":5315},{"s":"cclk","g":2,"t":205,"v":5320},{"s":"cclk","g":2,"t":210,"v":5300},{"s":"cclk","g":2,"t":214,"v":5300},{"s":"cclk","g":2,"t":216,"v":5270},{"s":"cclk","g":2,"t":220,"v":5300},{"s":"cclk","g":2,"t":223.4,"v":5305},
{"s":"cclk","g":3,"t":224.8,"v":5305},{"s":"cclk","g":3,"t":233,"v":5305},{"s":"cclk","g":3,"t":237,"v":5315},{"s":"cclk","g":3,"t":240,"v":5295},{"s":"cclk","g":3,"t":242,"v":5265},{"s":"cclk","g":3,"t":245,"v":5300},{"s":"cclk","g":3,"t":247,"v":5270},{"s":"cclk","g":3,"t":250,"v":5300},{"s":"cclk","g":3,"t":255,"v":5300},{"s":"cclk","g":3,"t":257,"v":5265},{"s":"cclk","g":3,"t":260,"v":5300},{"s":"cclk","g":3,"t":265,"v":5300},{"s":"cclk","g":3,"t":268,"v":5265},{"s":"cclk","g":3,"t":270,"v":5300},{"s":"cclk","g":3,"t":272,"v":5270},{"s":"cclk","g":3,"t":275,"v":5300},{"s":"cclk","g":3,"t":278,"v":5270},{"s":"cclk","g":3,"t":280,"v":5300},{"s":"cclk","g":3,"t":285,"v":5300},{"s":"cclk","g":3,"t":287,"v":5270},{"s":"cclk","g":3,"t":290,"v":5300},{"s":"cclk","g":3,"t":294,"v":5275},{"s":"cclk","g":3,"t":297,"v":5300},{"s":"cclk","g":3,"t":300,"v":5265},{"s":"cclk","g":3,"t":303,"v":5300},{"s":"cclk","g":3,"t":307,"v":5280},{"s":"cclk","g":3,"t":309,"v":5300},{"s":"cclk","g":3,"t":312.1,"v":5300},
{"s":"cclk","g":4,"t":313.7,"v":5305},{"s":"cclk","g":4,"t":317,"v":5305},{"s":"cclk","g":4,"t":319,"v":5300},{"s":"cclk","g":4,"t":320.7,"v":5335},{"s":"cclk","g":4,"t":322,"v":5305},{"s":"cclk","g":4,"t":327,"v":5305},{"s":"cclk","g":4,"t":330,"v":5320},{"s":"cclk","g":4,"t":332,"v":5295},{"s":"cclk","g":4,"t":340,"v":5290},{"s":"cclk","g":4,"t":345,"v":5285},{"s":"cclk","g":4,"t":346.4,"v":5090},{"s":"cclk","g":4,"t":347.5,"v":5285},{"s":"cclk","g":4,"t":355,"v":5290},{"s":"cclk","g":4,"t":361,"v":5285},{"s":"cclk","g":4,"t":362.6,"v":5190},{"s":"cclk","g":4,"t":364,"v":5290},{"s":"cclk","g":4,"t":372,"v":5290},{"s":"cclk","g":4,"t":375.5,"v":5295},{"s":"cclk","g":4,"t":376.5,"v":5140},{"s":"cclk","g":4,"t":377.5,"v":5310},{"s":"cclk","g":4,"t":382.3,"v":5310},
{"s":"gmem","g":1,"t":0.4,"v":1326},{"s":"gmem","g":1,"t":1.6,"v":1326},{"s":"gmem","g":1,"t":2.5,"v":141},{"s":"gmem","g":1,"t":4.4,"v":109},{"s":"gmem","g":1,"t":12.5,"v":76},{"s":"gmem","g":1,"t":13.6,"v":1326},{"s":"gmem","g":1,"t":14.4,"v":1326},{"s":"gmem","g":1,"t":15.5,"v":130},{"s":"gmem","g":1,"t":17.2,"v":109},{"s":"gmem","g":1,"t":18.3,"v":76},{"s":"gmem","g":1,"t":20,"v":130},{"s":"gmem","g":1,"t":21.7,"v":54},{"s":"gmem","g":1,"t":23.4,"v":1326},{"s":"gmem","g":1,"t":150.3,"v":1326},{"s":"gmem","g":1,"t":151.7,"v":652},
{"s":"gmem","g":2,"t":152.8,"v":1326},{"s":"gmem","g":2,"t":155.2,"v":1326},{"s":"gmem","g":2,"t":156.2,"v":130},{"s":"gmem","g":2,"t":158.7,"v":130},{"s":"gmem","g":2,"t":159.8,"v":76},{"s":"gmem","g":2,"t":164.3,"v":76},{"s":"gmem","g":2,"t":165.4,"v":1326},{"s":"gmem","g":2,"t":223.4,"v":1326},
{"s":"gmem","g":3,"t":224.8,"v":1326},{"s":"gmem","g":3,"t":225.9,"v":1326},{"s":"gmem","g":3,"t":227.6,"v":380},{"s":"gmem","g":3,"t":229.2,"v":109},{"s":"gmem","g":3,"t":230.6,"v":109},{"s":"gmem","g":3,"t":231.5,"v":1326},{"s":"gmem","g":3,"t":233.5,"v":1326},{"s":"gmem","g":3,"t":234.3,"v":130},{"s":"gmem","g":3,"t":237.6,"v":130},{"s":"gmem","g":3,"t":238.5,"v":1326},{"s":"gmem","g":3,"t":312.1,"v":1326},
{"s":"gmem","g":4,"t":313.7,"v":1318},{"s":"gmem","g":4,"t":315.1,"v":1318},{"s":"gmem","g":4,"t":316.5,"v":370},{"s":"gmem","g":4,"t":317.6,"v":316},{"s":"gmem","g":4,"t":318.5,"v":120},{"s":"gmem","g":4,"t":321.2,"v":65},{"s":"gmem","g":4,"t":382.3,"v":65},
{"s":"gclk","g":1,"t":0.4,"v":2533},{"s":"gclk","g":1,"t":1.6,"v":2533},{"s":"gclk","g":1,"t":2.5,"v":815},{"s":"gclk","g":1,"t":3.8,"v":815},{"s":"gclk","g":1,"t":4.7,"v":413},{"s":"gclk","g":1,"t":6.6,"v":413},{"s":"gclk","g":1,"t":7.7,"v":457},{"s":"gclk","g":1,"t":10.5,"v":467},{"s":"gclk","g":1,"t":12.2,"v":413},{"s":"gclk","g":1,"t":13.3,"v":2533},{"s":"gclk","g":1,"t":14.4,"v":2533},{"s":"gclk","g":1,"t":15.5,"v":761},{"s":"gclk","g":1,"t":16.7,"v":761},{"s":"gclk","g":1,"t":17.4,"v":402},{"s":"gclk","g":1,"t":18.3,"v":402},{"s":"gclk","g":1,"t":19.5,"v":761},{"s":"gclk","g":1,"t":20.6,"v":761},{"s":"gclk","g":1,"t":21.5,"v":272},{"s":"gclk","g":1,"t":22.8,"v":272},{"s":"gclk","g":1,"t":23.6,"v":2739},{"s":"gclk","g":1,"t":25.1,"v":2685},{"s":"gclk","g":1,"t":30.6,"v":2685},{"s":"gclk","g":1,"t":31.8,"v":2641},{"s":"gclk","g":1,"t":34,"v":2620},{"s":"gclk","g":1,"t":35.7,"v":2739},{"s":"gclk","g":1,"t":49.7,"v":2750},{"s":"gclk","g":1,"t":63.1,"v":2717},{"s":"gclk","g":1,"t":70.9,"v":2739},{"s":"gclk","g":1,"t":72.2,"v":2650},{"s":"gclk","g":1,"t":73.2,"v":2598},{"s":"gclk","g":1,"t":74.3,"v":2750},{"s":"gclk","g":1,"t":107.8,"v":2750},{"s":"gclk","g":1,"t":111.7,"v":2663},{"s":"gclk","g":1,"t":115.7,"v":2696},{"s":"gclk","g":1,"t":119,"v":2750},{"s":"gclk","g":1,"t":151.5,"v":2761},
{"s":"gclk","g":2,"t":152.8,"v":2554},{"s":"gclk","g":2,"t":153.7,"v":2554},{"s":"gclk","g":2,"t":154.6,"v":739},{"s":"gclk","g":2,"t":156.2,"v":739},{"s":"gclk","g":2,"t":157.3,"v":413},{"s":"gclk","g":2,"t":159.8,"v":413},{"s":"gclk","g":2,"t":161.3,"v":348},{"s":"gclk","g":2,"t":162.3,"v":707},{"s":"gclk","g":2,"t":163.4,"v":707},{"s":"gclk","g":2,"t":164.3,"v":402},{"s":"gclk","g":2,"t":165.4,"v":402},{"s":"gclk","g":2,"t":166.5,"v":2739},{"s":"gclk","g":2,"t":212.4,"v":2739},{"s":"gclk","g":2,"t":213.6,"v":2717},{"s":"gclk","g":2,"t":223.4,"v":2717},
{"s":"gclk","g":3,"t":224.8,"v":2554},{"s":"gclk","g":3,"t":225.9,"v":2554},{"s":"gclk","g":3,"t":227,"v":924},{"s":"gclk","g":3,"t":228.1,"v":576},{"s":"gclk","g":3,"t":229.5,"v":435},{"s":"gclk","g":3,"t":230.4,"v":2554},{"s":"gclk","g":3,"t":234.3,"v":2554},{"s":"gclk","g":3,"t":235.4,"v":511},{"s":"gclk","g":3,"t":236.5,"v":511},{"s":"gclk","g":3,"t":237.6,"v":217},{"s":"gclk","g":3,"t":238.5,"v":217},{"s":"gclk","g":3,"t":239.5,"v":2750},{"s":"gclk","g":3,"t":240.4,"v":2707},{"s":"gclk","g":3,"t":244.9,"v":2707},{"s":"gclk","g":3,"t":247.2,"v":2663},{"s":"gclk","g":3,"t":249.4,"v":2685},{"s":"gclk","g":3,"t":253.9,"v":2685},{"s":"gclk","g":3,"t":260.6,"v":2663},{"s":"gclk","g":3,"t":265.1,"v":2717},{"s":"gclk","g":3,"t":309.9,"v":2717},{"s":"gclk","g":3,"t":312.1,"v":2739},
{"s":"gclk","g":4,"t":313.7,"v":2549},{"s":"gclk","g":4,"t":314.4,"v":2549},{"s":"gclk","g":4,"t":315.3,"v":1351},{"s":"gclk","g":4,"t":316,"v":752},{"s":"gclk","g":4,"t":316.7,"v":730},{"s":"gclk","g":4,"t":317.6,"v":425},{"s":"gclk","g":4,"t":318.8,"v":403},{"s":"gclk","g":4,"t":319.8,"v":294},{"s":"gclk","g":4,"t":321.2,"v":338},{"s":"gclk","g":4,"t":322.6,"v":294},{"s":"gclk","g":4,"t":324,"v":261},{"s":"gclk","g":4,"t":326.4,"v":229},{"s":"gclk","g":4,"t":327.3,"v":392},{"s":"gclk","g":4,"t":329.2,"v":392},{"s":"gclk","g":4,"t":330.4,"v":523},{"s":"gclk","g":4,"t":332.5,"v":479},{"s":"gclk","g":4,"t":335.3,"v":468},{"s":"gclk","g":4,"t":339.1,"v":479},{"s":"gclk","g":4,"t":341.9,"v":458},{"s":"gclk","g":4,"t":344.7,"v":468},{"s":"gclk","g":4,"t":349.4,"v":479},{"s":"gclk","g":4,"t":354.1,"v":490},{"s":"gclk","g":4,"t":356.9,"v":512},{"s":"gclk","g":4,"t":358.8,"v":523},{"s":"gclk","g":4,"t":360.7,"v":458},{"s":"gclk","g":4,"t":363.5,"v":490},{"s":"gclk","g":4,"t":366.3,"v":458},{"s":"gclk","g":4,"t":369.2,"v":490},{"s":"gclk","g":4,"t":372.9,"v":490},{"s":"gclk","g":4,"t":375.7,"v":501},{"s":"gclk","g":4,"t":377.2,"v":545},{"s":"gclk","g":4,"t":378.6,"v":392},{"s":"gclk","g":4,"t":380.4,"v":283},{"s":"gclk","g":4,"t":382.3,"v":283}]
},
"vconcat":[
{"width":1503,"height":167,
 "layer":[
  {"data":{"name":"scores"},"transform":[{"calculate":"datum.row + 0.8286 + (datum.lines - 1) * 0.6","as":"y2"},{"calculate":"datum.col + 0.3083","as":"bx"},{"calculate":"datum.col + 0.9554","as":"bx2"}],
   "mark":{"type":"rect","fill":"#efefef"},
   "encoding":{"x":{"field":"bx","type":"quantitative","scale":{"domain":[-0.05477,2.9939],"nice":false,"zero":false},"axis":null},"x2":{"field":"bx2"},
    "y":{"field":"row","type":"quantitative","scale":{"domain":[-0.4,4.3714],"reverse":true,"nice":false,"zero":false},"axis":null},"y2":{"field":"y2"}}},
  {"data":{"name":"scores"},"transform":[{"calculate":"datum.row + 0.414","as":"yc"}],
   "mark":{"type":"text","align":"left","baseline":"middle","fontSize":14,"fontWeight":600,"fill":"#333333","lineBreak":"\n","lineHeight":21},
   "encoding":{"x":{"field":"col","type":"quantitative","scale":{"domain":[-0.05477,2.9939],"nice":false,"zero":false},"axis":null},
    "y":{"field":"yc","type":"quantitative","scale":{"domain":[-0.4,4.3714],"reverse":true,"nice":false,"zero":false},"axis":null},"text":{"field":"label"}}},
  {"data":{"name":"scores"},"transform":[{"calculate":"datum.row + 0.414","as":"yc"},{"calculate":"datum.col + 0.3245","as":"vx"}],
   "mark":{"type":"text","align":"left","baseline":"middle","fontSize":13.5,"fill":"#666666"},
   "encoding":{"x":{"field":"vx","type":"quantitative","scale":{"domain":[-0.05477,2.9939],"nice":false,"zero":false},"axis":null},
    "y":{"field":"yc","type":"quantitative","scale":{"domain":[-0.4,4.3714],"reverse":true,"nice":false,"zero":false},"axis":null},"text":{"field":"value"}}},
  {"data":{"values":[{"txt":"Detailed scores"}]},
   "mark":{"type":"text","align":"left","baseline":"middle","fontSize":18,"fontWeight":600,"fill":"#333333"},
   "encoding":{"x":{"datum":-0.0223,"type":"quantitative","scale":{"domain":[-0.05477,2.9939],"nice":false,"zero":false},"axis":null},
    "y":{"datum":0.371,"type":"quantitative","scale":{"domain":[-0.4,4.3714],"reverse":true,"nice":false,"zero":false},"axis":null},"text":{"field":"txt"}}}
 ]},
{"spacing":0,"vconcat":[
 {"width":1503,"height":259,
  "layer":[
   {"data":{"values":[{"v":20},{"v":40},{"v":60},{"v":80},{"v":100},{"v":120},{"v":140},{"v":160}]},
    "mark":{"type":"rule","stroke":"#ededed","strokeWidth":1},
    "encoding":{"x":{"datum":0,"type":"quantitative","scale":{"domain":[-17.256,407.92],"nice":false,"zero":false},
      "axis":{"orient":"bottom","values":[0,100,200,300,400],"labelExpr":"utcFormat(datum.value * 1000, '%M:%S')","domain":false,"grid":false,"tickSize":5,"tickColor":"#b5b5b5","labelColor":"#999999","labelFontSize":9,"labelPadding":2,"labelFlush":false,"offset":-21,"title":null,"zindex":1}},
     "x2":{"datum":400},
     "y":{"field":"v","type":"quantitative","scale":{"domain":[-19.38,219.7],"nice":false,"zero":false},
      "axis":{"orient":"left","values":[0,40,80,120,165],"labelExpr":"datum.value > 160 ? '' : datum.label","domain":false,"grid":false,"tickSize":5,"tickColor":"#b5b5b5","labelColor":"#8a8a8a","labelFontSize":9,"labelPadding":2,"offset":-61,"title":"Frame rate (FPS)","titleColor":"#8a8a8a","titleFontSize":10.5,"titleFontWeight":"normal","titleX":-39,"titleY":148.5,"titleAngle":270,"titleAlign":"center","titleBaseline":"middle","zindex":1}}}},
   {"data":{"values":[{"v":0}]},"mark":{"type":"rule","stroke":"#cccccc","strokeWidth":1},
    "encoding":{"x":{"datum":0,"type":"quantitative","scale":{"domain":[-17.256,407.92],"nice":false,"zero":false}},"x2":{"datum":400},
     "y":{"field":"v","type":"quantitative","scale":{"domain":[-19.38,219.7],"nice":false,"zero":false}}}},
   {"data":{"name":"markers"},"mark":{"type":"rule","stroke":"#444444","strokeWidth":1,"strokeDash":[3,2]},
    "encoding":{"x":{"field":"t","type":"quantitative","scale":{"domain":[-17.256,407.92],"nice":false,"zero":false}},
     "y":{"datum":0,"type":"quantitative","scale":{"domain":[-19.38,219.7],"nice":false,"zero":false}},"y2":{"datum":165}}},
   {"data":{"name":"markers"},"mark":{"type":"text","angle":270,"align":"left","baseline":"top","dx":10,"dy":4,"fontSize":9,"fill":"#333333"},
    "encoding":{"x":{"field":"t","type":"quantitative","scale":{"domain":[-17.256,407.92],"nice":false,"zero":false}},
     "y":{"datum":0,"type":"quantitative","scale":{"domain":[-19.38,219.7],"nice":false,"zero":false}},"text":{"field":"label"}}},
   {"data":{"name":"c1"},"mark":{"type":"line","strokeWidth":2},
    "encoding":{"x":{"field":"t","type":"quantitative","scale":{"domain":[-17.256,407.92],"nice":false,"zero":false}},
     "y":{"field":"v","type":"quantitative","scale":{"domain":[-19.38,219.7],"nice":false,"zero":false}},
     "color":{"field":"s","type":"nominal","scale":{"domain":["fps","cput","gput","gload","cpuu","cclk","gmem","gclk"],"range":["#f47f20","#1eedb4","#17acff","#df2a2e","#111111","#8a4fd2","#e9c878","#ef7aa8"]},"legend":null},
     "detail":{"field":"g","type":"nominal"}}},
   {"data":{"values":[{"txt":"Detailed monitoring"}]},"mark":{"type":"text","align":"left","baseline":"middle","fontSize":18,"fontWeight":600,"fill":"#333333"},
    "encoding":{"x":{"datum":-12.73,"type":"quantitative","scale":{"domain":[-17.256,407.92],"nice":false,"zero":false}},
     "y":{"datum":196.7,"type":"quantitative","scale":{"domain":[-19.38,219.7],"nice":false,"zero":false}},"text":{"field":"txt"}}}
  ]},
 {"width":1503,"height":206,
  "layer":[
   {"data":{"values":[{"v":10},{"v":20},{"v":30},{"v":40},{"v":50},{"v":60},{"v":70},{"v":80}]},
    "mark":{"type":"rule","stroke":"#ededed","strokeWidth":1},
    "encoding":{"x":{"datum":0,"type":"quantitative","scale":{"domain":[-17.256,407.92],"nice":false,"zero":false},
      "axis":{"orient":"bottom","values":[0,100,200,300,400],"labelExpr":"utcFormat(datum.value * 1000, '%M:%S')","domain":false,"grid":false,"tickSize":5,"tickColor":"#b5b5b5","labelColor":"#999999","labelFontSize":9,"labelPadding":2,"labelFlush":false,"offset":-21,"title":null,"zindex":1}},
     "x2":{"datum":400},
     "y":{"field":"v","type":"quantitative","scale":{"domain":[-10.33,90.98],"nice":false,"zero":false},
      "axis":{"orient":"left","values":[0,20,40,60,88],"labelExpr":"datum.value > 80 ? '' : datum.label","domain":false,"grid":false,"tickSize":5,"tickColor":"#b5b5b5","labelColor":"#8a8a8a","labelFontSize":9,"labelPadding":2,"offset":-61,"title":"Temperature (°C)","titleColor":"#8a8a8a","titleFontSize":10.5,"titleFontWeight":"normal","titleX":-40,"titleY":95.5,"titleAngle":270,"titleAlign":"center","titleBaseline":"middle","zindex":1}}}},
   {"data":{"values":[{"v":0}]},"mark":{"type":"rule","stroke":"#cccccc","strokeWidth":1},
    "encoding":{"x":{"datum":0,"type":"quantitative","scale":{"domain":[-17.256,407.92],"nice":false,"zero":false}},"x2":{"datum":400},
     "y":{"field":"v","type":"quantitative","scale":{"domain":[-10.33,90.98],"nice":false,"zero":false}}}},
   {"data":{"name":"markers"},"mark":{"type":"rule","stroke":"#444444","strokeWidth":1,"strokeDash":[3,2]},
    "encoding":{"x":{"field":"t","type":"quantitative","scale":{"domain":[-17.256,407.92],"nice":false,"zero":false}},
     "y":{"datum":0,"type":"quantitative","scale":{"domain":[-10.33,90.98],"nice":false,"zero":false}},"y2":{"datum":88}}},
   {"data":{"name":"markers"},"mark":{"type":"text","angle":270,"align":"left","baseline":"top","dx":10,"dy":4,"fontSize":9,"fill":"#333333"},
    "encoding":{"x":{"field":"t","type":"quantitative","scale":{"domain":[-17.256,407.92],"nice":false,"zero":false}},
     "y":{"datum":0,"type":"quantitative","scale":{"domain":[-10.33,90.98],"nice":false,"zero":false}},"text":{"field":"label"}}},
   {"data":{"name":"c2"},"mark":{"type":"line","strokeWidth":2},
    "encoding":{"x":{"field":"t","type":"quantitative","scale":{"domain":[-17.256,407.92],"nice":false,"zero":false}},
     "y":{"field":"v","type":"quantitative","scale":{"domain":[-10.33,90.98],"nice":false,"zero":false}},
     "color":{"field":"s","type":"nominal","scale":{"domain":["fps","cput","gput","gload","cpuu","cclk","gmem","gclk"],"range":["#f47f20","#1eedb4","#17acff","#df2a2e","#111111","#8a4fd2","#e9c878","#ef7aa8"]},"legend":null},
     "detail":{"field":"g","type":"nominal"}}}
  ]},
 {"width":1503,"height":206,
  "layer":[
   {"data":{"values":[{"v":10},{"v":20},{"v":30},{"v":40},{"v":50},{"v":60},{"v":70},{"v":80},{"v":90},{"v":100}]},
    "mark":{"type":"rule","stroke":"#ededed","strokeWidth":1},
    "encoding":{"x":{"datum":0,"type":"quantitative","scale":{"domain":[-17.256,407.92],"nice":false,"zero":false},
      "axis":{"orient":"bottom","values":[0,100,200,300,400],"labelExpr":"utcFormat(datum.value * 1000, '%M:%S')","domain":false,"grid":false,"tickSize":5,"tickColor":"#b5b5b5","labelColor":"#999999","labelFontSize":9,"labelPadding":2,"labelFlush":false,"offset":-21,"title":null,"zindex":1}},
     "x2":{"datum":400},
     "y":{"field":"v","type":"quantitative","scale":{"domain":[-12.73,112.12],"nice":false,"zero":false},
      "axis":{"orient":"left","values":[0,20,40,60,80,100],"domain":false,"grid":false,"tickSize":5,"tickColor":"#b5b5b5","labelColor":"#8a8a8a","labelFontSize":9,"labelPadding":2,"offset":-61,"title":"Percentage (%)","titleColor":"#8a8a8a","titleFontSize":10.5,"titleFontWeight":"normal","titleX":-40,"titleY":95,"titleAngle":270,"titleAlign":"center","titleBaseline":"middle","zindex":1}}}},
   {"data":{"values":[{"v":0}]},"mark":{"type":"rule","stroke":"#cccccc","strokeWidth":1},
    "encoding":{"x":{"datum":0,"type":"quantitative","scale":{"domain":[-17.256,407.92],"nice":false,"zero":false}},"x2":{"datum":400},
     "y":{"field":"v","type":"quantitative","scale":{"domain":[-12.73,112.12],"nice":false,"zero":false}}}},
   {"data":{"name":"markers"},"mark":{"type":"rule","stroke":"#444444","strokeWidth":1,"strokeDash":[3,2]},
    "encoding":{"x":{"field":"t","type":"quantitative","scale":{"domain":[-17.256,407.92],"nice":false,"zero":false}},
     "y":{"datum":0,"type":"quantitative","scale":{"domain":[-12.73,112.12],"nice":false,"zero":false}},"y2":{"datum":109}}},
   {"data":{"name":"markers"},"mark":{"type":"text","angle":270,"align":"left","baseline":"top","dx":10,"dy":4,"fontSize":9,"fill":"#333333"},
    "encoding":{"x":{"field":"t","type":"quantitative","scale":{"domain":[-17.256,407.92],"nice":false,"zero":false}},
     "y":{"datum":0,"type":"quantitative","scale":{"domain":[-12.73,112.12],"nice":false,"zero":false}},"text":{"field":"label"}}},
   {"data":{"name":"c3"},"mark":{"type":"line","strokeWidth":2},
    "encoding":{"x":{"field":"t","type":"quantitative","scale":{"domain":[-17.256,407.92],"nice":false,"zero":false}},
     "y":{"field":"v","type":"quantitative","scale":{"domain":[-12.73,112.12],"nice":false,"zero":false}},
     "color":{"field":"s","type":"nominal","scale":{"domain":["fps","cput","gput","gload","cpuu","cclk","gmem","gclk"],"range":["#f47f20","#1eedb4","#17acff","#df2a2e","#111111","#8a4fd2","#e9c878","#ef7aa8"]},"legend":null},
     "detail":{"field":"g","type":"nominal"}}}
  ]},
 {"width":1503,"height":206,
  "layer":[
   {"data":{"values":[{"v":500},{"v":1000},{"v":1500},{"v":2000},{"v":2500},{"v":3000},{"v":3500},{"v":4000},{"v":4500},{"v":5000},{"v":5500}]},
    "mark":{"type":"rule","stroke":"#ededed","strokeWidth":1},
    "encoding":{"x":{"datum":0,"type":"quantitative","scale":{"domain":[-17.256,407.92],"nice":false,"zero":false},
      "axis":{"orient":"bottom","values":[0,100,200,300,400],"labelExpr":"utcFormat(datum.value * 1000, '%M:%S')","domain":false,"grid":false,"tickSize":5,"tickColor":"#b5b5b5","labelColor":"#999999","labelFontSize":9,"labelPadding":2,"labelFlush":false,"offset":-21,"title":null,"zindex":1}},
     "x2":{"datum":400},
     "y":{"field":"v","type":"quantitative","scale":{"domain":[-686.3,6045.8],"nice":false,"zero":false},
      "axis":{"orient":"left","values":[0,1000,2000,3000,4000,5000],"format":"d","domain":false,"grid":false,"tickSize":5,"tickColor":"#b5b5b5","labelColor":"#8a8a8a","labelFontSize":9,"labelPadding":2,"offset":-61,"title":"Frequency (MHz)","titleColor":"#8a8a8a","titleFontSize":10.5,"titleFontWeight":"normal","titleX":-40,"titleY":95,"titleAngle":270,"titleAlign":"center","titleBaseline":"middle","zindex":1}}}},
   {"data":{"values":[{"v":0}]},"mark":{"type":"rule","stroke":"#cccccc","strokeWidth":1},
    "encoding":{"x":{"datum":0,"type":"quantitative","scale":{"domain":[-17.256,407.92],"nice":false,"zero":false}},"x2":{"datum":400},
     "y":{"field":"v","type":"quantitative","scale":{"domain":[-686.3,6045.8],"nice":false,"zero":false}}}},
   {"data":{"name":"markers"},"mark":{"type":"rule","stroke":"#444444","strokeWidth":1,"strokeDash":[3,2]},
    "encoding":{"x":{"field":"t","type":"quantitative","scale":{"domain":[-17.256,407.92],"nice":false,"zero":false}},
     "y":{"datum":0,"type":"quantitative","scale":{"domain":[-686.3,6045.8],"nice":false,"zero":false}},"y2":{"datum":5880}}},
   {"data":{"name":"markers"},"mark":{"type":"text","angle":270,"align":"left","baseline":"top","dx":10,"dy":4,"fontSize":9,"fill":"#333333"},
    "encoding":{"x":{"field":"t","type":"quantitative","scale":{"domain":[-17.256,407.92],"nice":false,"zero":false}},
     "y":{"datum":0,"type":"quantitative","scale":{"domain":[-686.3,6045.8],"nice":false,"zero":false}},"text":{"field":"label"}}},
   {"data":{"name":"c4"},"mark":{"type":"line","strokeWidth":2},
    "encoding":{"x":{"field":"t","type":"quantitative","scale":{"domain":[-17.256,407.92],"nice":false,"zero":false}},
     "y":{"field":"v","type":"quantitative","scale":{"domain":[-686.3,6045.8],"nice":false,"zero":false}},
     "color":{"field":"s","type":"nominal","scale":{"domain":["fps","cput","gput","gload","cpuu","cclk","gmem","gclk"],"range":["#f47f20","#1eedb4","#17acff","#df2a2e","#111111","#8a4fd2","#e9c878","#ef7aa8"]},"legend":null},
     "detail":{"field":"g","type":"nominal"}}}
  ]},
 {"width":1503,"height":53,
  "data":{"name":"legend"},
  "layer":[
   {"mark":{"type":"rect"},
    "encoding":{"x":{"field":"s","type":"nominal","sort":null,"scale":{"type":"band","domain":["fps","cput","gput","gload","cpuu","cclk","gmem","gclk"],"paddingInner":0.0273,"paddingOuter":0.118,"align":0.6},"axis":null},
     "y":{"datum":0,"type":"quantitative","scale":{"domain":[-2.3,8.3],"reverse":true,"nice":false,"zero":false},"axis":null},"y2":{"datum":1},
     "color":{"field":"s","type":"nominal","scale":{"domain":["fps","cput","gput","gload","cpuu","cclk","gmem","gclk"],"range":["#f47f20","#1eedb4","#17acff","#df2a2e","#111111","#8a4fd2","#e9c878","#ef7aa8"]},"legend":null}}},
   {"mark":{"type":"text","align":"left","baseline":"middle","fontSize":9,"fill":"#555555"},
    "encoding":{"x":{"field":"s","type":"nominal","sort":null,"bandPosition":0,"scale":{"type":"band","domain":["fps","cput","gput","gload","cpuu","cclk","gmem","gclk"],"paddingInner":0.0273,"paddingOuter":0.118,"align":0.6},"axis":null},
     "y":{"datum":3.5,"type":"quantitative","scale":{"domain":[-2.3,8.3],"reverse":true,"nice":false,"zero":false},"axis":null},"text":{"field":"label"}}}
  ]}
]}
]
}
